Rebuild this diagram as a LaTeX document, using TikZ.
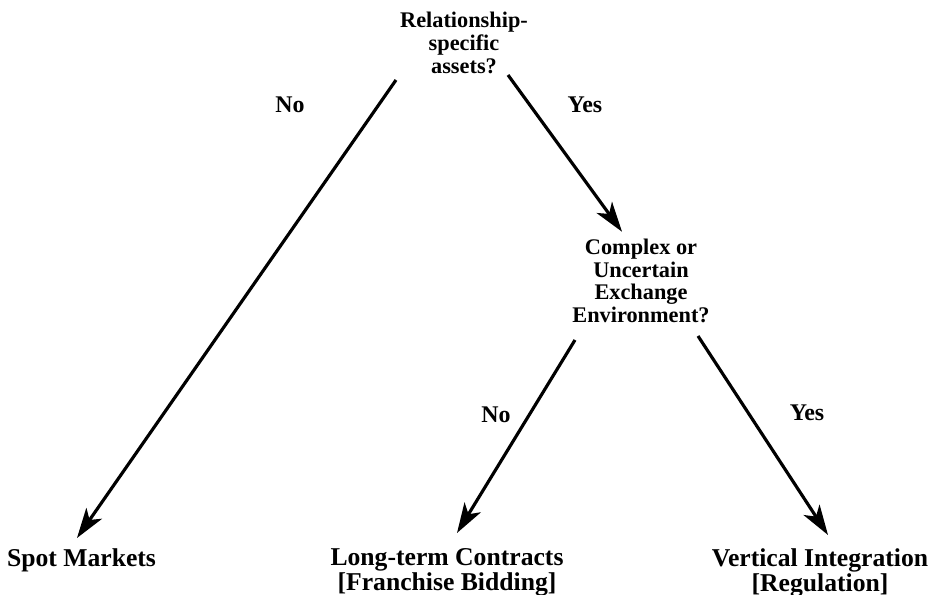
\documentclass[tikz,border=0pt]{standalone}
\usepackage{fontspec}
\setmainfont{Liberation Serif}
\usetikzlibrary{arrows.meta, positioning, calc}
\newcommand{\tightlines}{\lineskiplimit=-100pt\relax}

\begin{document}
\begin{tikzpicture}[
  question/.style={font=\bfseries\fontsize{12.7}{13}\selectfont\tightlines, align=center, inner sep=1pt},
  outcome/.style={font=\bfseries\fontsize{14.6}{14.2}\selectfont\tightlines, align=center, inner sep=1pt, anchor=north},
  answer/.style={font=\bfseries\fontsize{13.6}{14}\selectfont, inner sep=1pt},
  arr/.style={-{Stealth[length=0.6cm, width=0.38cm, inset=0.16cm]}, line width=1.8pt}
]
\useasboundingbox (0,0) rectangle (18.62,11.9);

% questions
\node[question] (root) at (9.28,11.04) {Relationship-\\specific\\assets?};
\node[question] (mid) at (12.82,6.28) {Complex or\\Uncertain\\Exchange\\Environment?};

% outcomes
\node[outcome] (spot) at (1.63,0.97) {Spot Markets};
\node[outcome] (ltc) at (8.94,0.97) {Long-term Contracts\\{[Franchise Bidding]}};
\node[outcome] (vi) at (16.4,0.97) {Vertical Integration\\{[Regulation]}};

% start points of the arrows
\coordinate (rootL) at (7.92,10.3);
\coordinate (rootR) at (10.16,10.4);
\coordinate (midL) at (11.5,5.1);
\coordinate (midR) at (13.96,5.18);

\draw[arr] (rootL) -- ($(spot.north)+(-0.09,0.17)$);
\draw[arr] (rootR) -- ($(mid.north)+(-0.38,0.1)$);
\draw[arr] (midL) -- ($(ltc.north)+(0.2,0.27)$);
\draw[arr] (midR) -- ($(vi.north)+(0.16,0.23)$);

% branch labels
\node[answer] (no1) at (5.8,9.8) {No};
\node[answer] (yes1) at (11.7,9.8) {Yes};
\node[answer] (no2) at (9.92,3.6) {No};
\node[answer] (yes2) at (16.14,3.64) {Yes};

\end{tikzpicture}
\end{document}
